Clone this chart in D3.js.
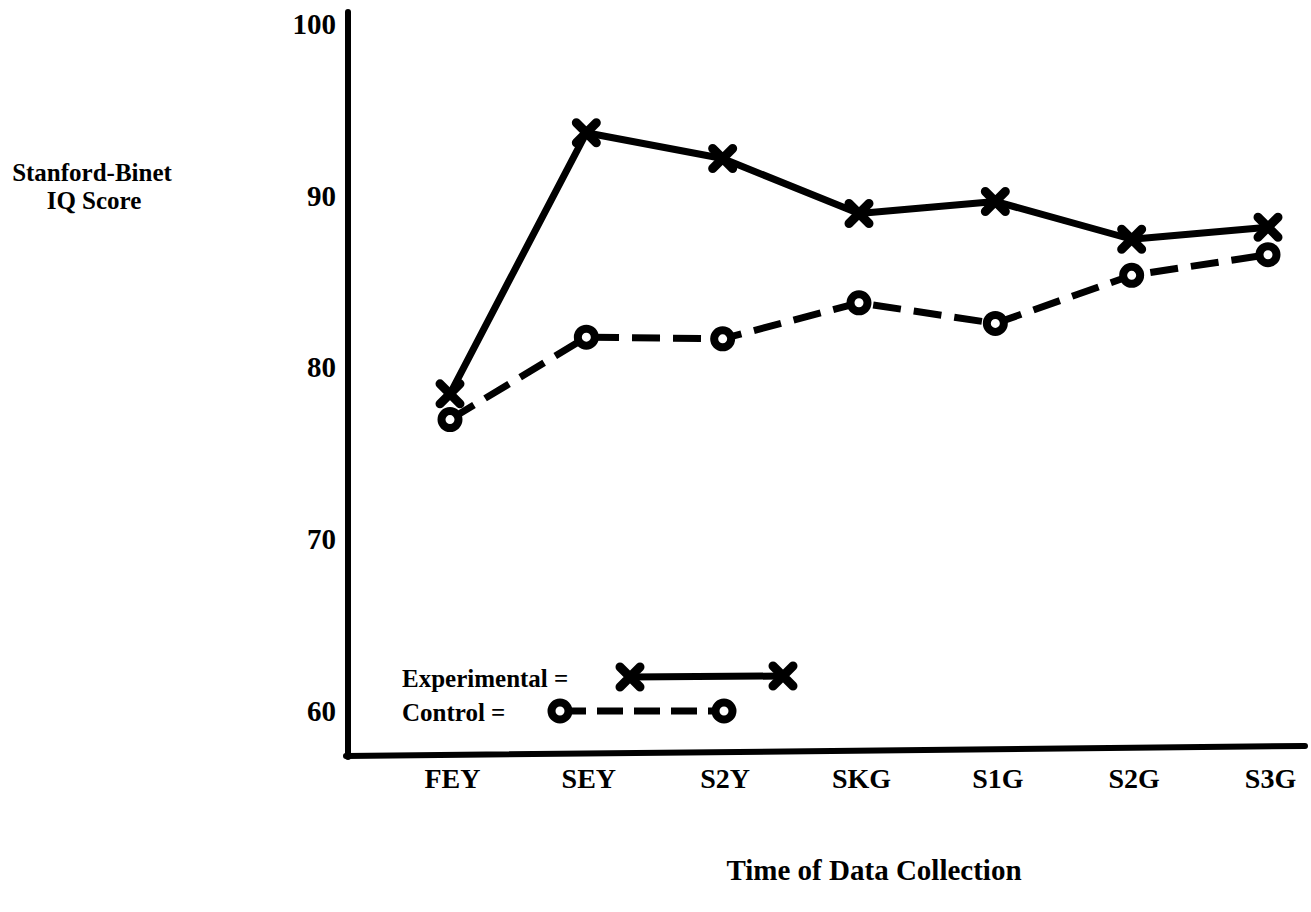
<!DOCTYPE html>
<html>
<head>
<meta charset="utf-8">
<script src="https://cdn.jsdelivr.net/npm/d3@7"></script>
<style>
  body { margin: 0; background: #fff; }
  svg text { font-family: "Liberation Serif", "Times New Roman", serif; font-weight: bold; fill: #000; }
</style>
</head>
<body>
<div id="chart"></div>
<script>
const categories = ['FEY', 'SEY', 'S2Y', 'SKG', 'S1G', 'S2G', 'S3G'];
const experimental = [78.7, 93.9, 92.4, 89.2, 89.9, 87.7, 88.4];
const control = [77.2, 82.0, 81.9, 84.0, 82.8, 85.6, 86.8];
const yTicks = [60, 70, 80, 90, 100];

const width = 1311, height = 912;

const svg = d3.select('#chart').append('svg')
  .attr('width', width)
  .attr('height', height);

const x = d3.scalePoint()
  .domain(categories)
  .range([450, 1268]);

const y = d3.scaleLinear()
  .domain([60, 100])
  .range([715, 28]);

// axes lines
svg.append('line')
  .attr('x1', 348).attr('y1', 12).attr('x2', 348).attr('y2', 757)
  .attr('stroke', '#000').attr('stroke-width', 6).attr('stroke-linecap', 'round');
svg.append('line')
  .attr('x1', 346).attr('y1', 756).attr('x2', 1305).attr('y2', 746)
  .attr('stroke', '#000').attr('stroke-width', 6).attr('stroke-linecap', 'round');

// y tick labels
const yAxis = d3.axisLeft(y).tickValues(yTicks).tickSize(0).tickPadding(0);
const gy = svg.append('g').attr('transform', 'translate(336,-4)').call(yAxis);
gy.select('.domain').remove();
gy.selectAll('text')
  .attr('font-size', 29)
  .style('font-family', '"Liberation Serif", serif')
  .style('font-weight', 'bold');

// x tick labels
const xAxis = d3.axisBottom(x).tickSize(0).tickPadding(0);
const gx = svg.append('g').attr('transform', 'translate(2,768)').call(xAxis);
gx.select('.domain').remove();
gx.selectAll('text')
  .attr('font-size', 28)
  .style('font-family', '"Liberation Serif", serif')
  .style('font-weight', 'bold');

// axis titles
svg.append('text').attr('x', 92).attr('y', 181).attr('text-anchor', 'middle')
  .attr('font-size', 25).text('Stanford-Binet');
svg.append('text').attr('x', 94).attr('y', 209).attr('text-anchor', 'middle')
  .attr('font-size', 25).text('IQ Score');
svg.append('text').attr('x', 874).attr('y', 880).attr('text-anchor', 'middle')
  .attr('font-size', 29).text('Time of Data Collection');

const line = d3.line()
  .x((d, i) => x(categories[i]))
  .y(d => y(d));

svg.append('path')
  .datum(experimental)
  .attr('d', line)
  .attr('fill', 'none')
  .attr('stroke', '#000')
  .attr('stroke-width', 7)
  .attr('stroke-linejoin', 'round');

svg.append('path')
  .datum(control)
  .attr('d', line)
  .attr('fill', 'none')
  .attr('stroke', '#000')
  .attr('stroke-width', 7)
  .attr('stroke-dasharray', '28,13');

function drawX(g, cx, cy) {
  g.append('path')
    .attr('d', `M${cx - 10},${cy - 10}L${cx + 10},${cy + 10}M${cx + 10},${cy - 10}L${cx - 10},${cy + 10}`)
    .attr('stroke', '#000').attr('stroke-width', 9).attr('stroke-linecap', 'round');
}
function drawO(g, cx, cy) {
  g.append('circle')
    .attr('cx', cx).attr('cy', cy).attr('r', 8.5)
    .attr('fill', '#fff').attr('stroke', '#000').attr('stroke-width', 8);
}

const marks = svg.append('g');
control.forEach((v, i) => drawO(marks, x(categories[i]), y(v)));
experimental.forEach((v, i) => drawX(marks, x(categories[i]), y(v)));

// legend
svg.append('text').attr('x', 402).attr('y', 687).attr('font-size', 25).text('Experimental =');
svg.append('text').attr('x', 402).attr('y', 721).attr('font-size', 25).text('Control =');
svg.append('line').attr('x1', 630).attr('y1', 677).attr('x2', 783).attr('y2', 676)
  .attr('stroke', '#000').attr('stroke-width', 7);
drawX(svg, 630, 677);
drawX(svg, 783, 676);
svg.append('line').attr('x1', 560).attr('y1', 711).attr('x2', 724).attr('y2', 711)
  .attr('stroke', '#000').attr('stroke-width', 7).attr('stroke-dasharray', '26,11');
drawO(svg, 560, 711);
drawO(svg, 724, 711);
</script>
</body>
</html>
